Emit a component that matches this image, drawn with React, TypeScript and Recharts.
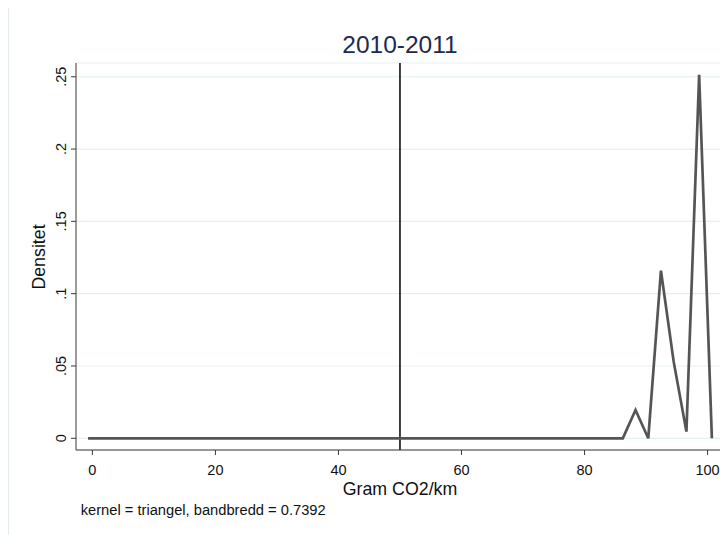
import { CartesianGrid, Line, LineChart, ReferenceLine, XAxis, YAxis } from "recharts";

// kdensity-punkter (triangelkernel)
const gramCo2 = [-0.7, 86.22, 88.29, 90.36, 92.42, 94.49, 96.56, 98.63, 100.7];
const densitet = [0, 0, 0.0196, 0, 0.1159, 0.053, 0.0046, 0.2513, 0];

const xTicks = [0, 20, 40, 60, 80, 100];
const yTicks = [0, 0.05, 0.1, 0.15, 0.2, 0.25];
const yTickLabels = ["0", ".05", ".1", ".15", ".2", ".25"];

const data = gramCo2.map((x, i) => ({ x, y: densitet[i] }));

const FONT = "'Liberation Sans', Arial, sans-serif";
const W = 719;
const H = 528;

const YTick = (props: any) => {
  const { x, y, payload } = props;
  const idx = yTicks.indexOf(payload.value);
  return (
    <text
      transform={`translate(${x - 3},${y}) rotate(-90)`}
      textAnchor="middle"
      fontSize={14.5}
      fontFamily={FONT}
      fill="#111"
    >
      {idx >= 0 ? yTickLabels[idx] : payload.value}
    </text>
  );
};

const XTick = (props: any) => {
  const { x, y, payload } = props;
  return (
    <text x={x} y={y} dy={18} textAnchor="middle" fontSize={14.5} fontFamily={FONT} fill="#111">
      {payload.value}
    </text>
  );
};

export default function App() {
  return (
    <div
      style={{
        position: "relative",
        width: W,
        height: H,
        marginTop: -2,
        borderTop: "1px solid #e4eced",
        borderLeft: "1px solid #e4eced",
        background: "#fff",
      }}
    >
      <LineChart width={W} height={H} data={data} margin={{ top: 56, right: 4, bottom: 0, left: 0 }}>
        <CartesianGrid vertical={false} stroke="#e6eff0" strokeWidth={1.2} />
        <XAxis
          dataKey="x"
          type="number"
          domain={[-2.66, 102.67]}
          allowDataOverflow
          ticks={xTicks}
          height={85}
          tickSize={5}
          stroke="#3a3a3a"
          tick={<XTick />}
        />
        <YAxis
          type="number"
          domain={[-0.0081, 0.2595]}
          allowDataOverflow
          ticks={yTicks}
          width={67}
          tickSize={5}
          stroke="#3a3a3a"
          tick={<YTick />}
        />
        <ReferenceLine x={50} stroke="#000" strokeWidth={1.5} />
        <Line
          type="linear"
          dataKey="y"
          stroke="#555"
          strokeWidth={2.7}
          dot={false}
          isAnimationActive={false}
        />
      </LineChart>
      <svg
        width={W}
        height={H}
        style={{ position: "absolute", left: 0, top: 0, pointerEvents: "none" }}
        fontFamily={FONT}
      >
        <text x={391} y={46} textAnchor="middle" fontSize={24.5} fill="#1c2a4f">
          2010-2011
        </text>
        <text x={391} y={488} textAnchor="middle" fontSize={17.8} fill="#111">
          Gram CO2/km
        </text>
        <text transform="translate(36,250) rotate(-90)" textAnchor="middle" fontSize={17.8} fill="#111">
          Densitet
        </text>
        <text x={71.7} y={508} fontSize={14.7} fill="#111">
          kernel = triangel, bandbredd = 0.7392
        </text>
      </svg>
    </div>
  );
}
